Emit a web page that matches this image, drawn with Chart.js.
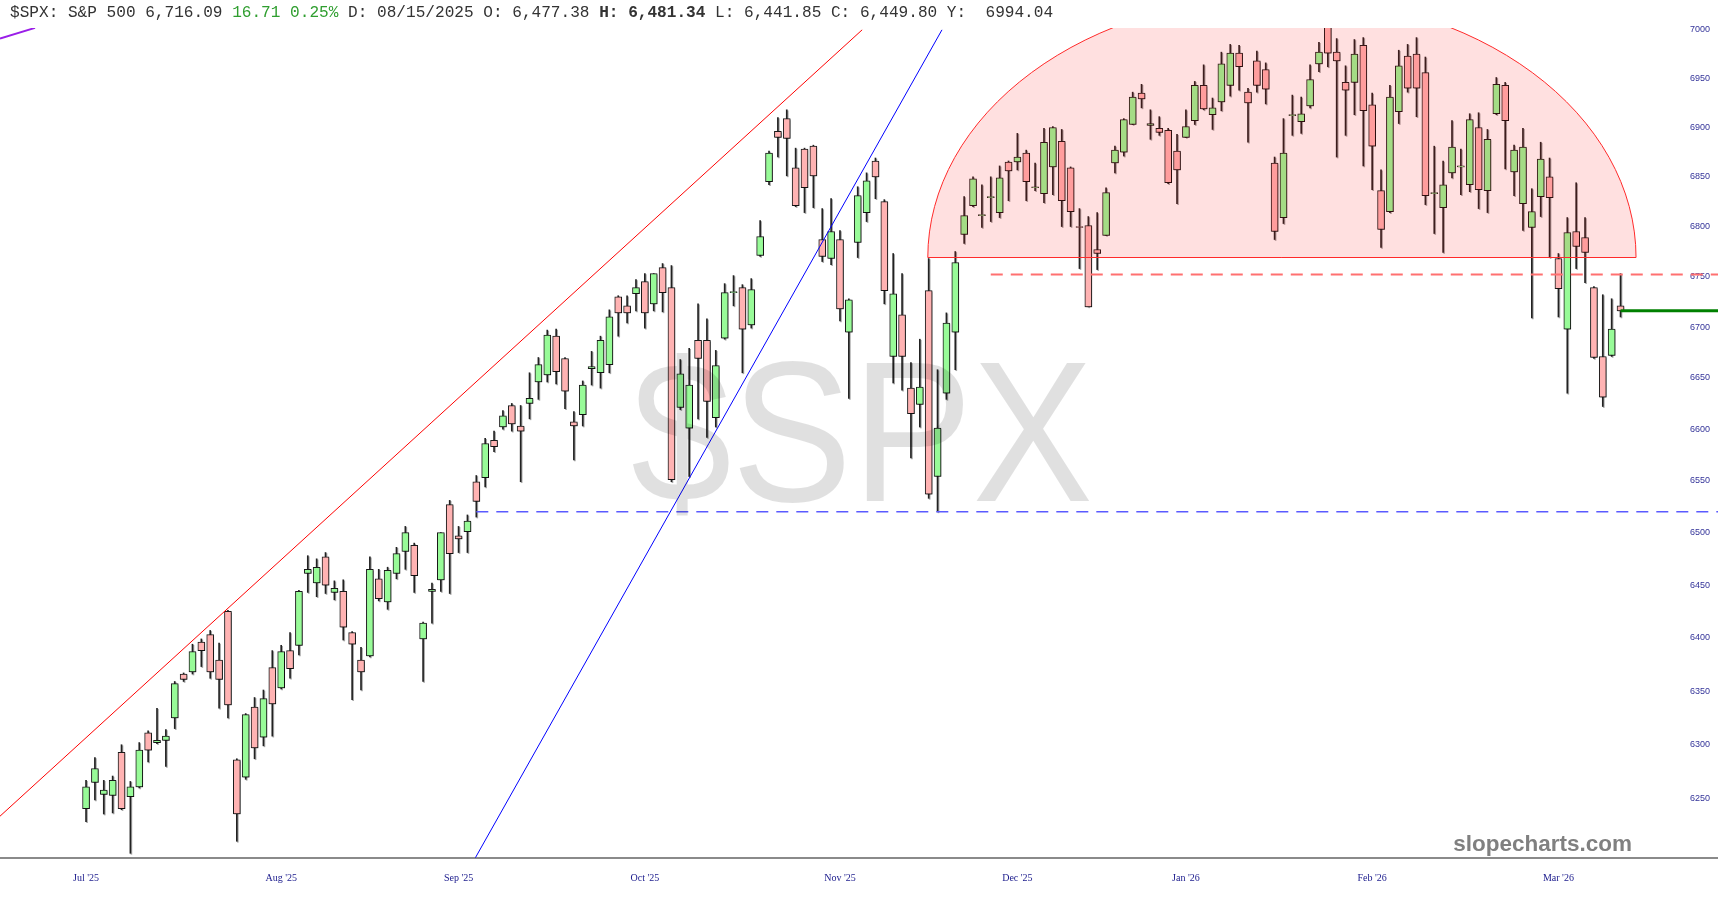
<!DOCTYPE html>
<html>
<head>
<meta charset="utf-8">
<title>$SPX</title>
<script src="https://cdn.jsdelivr.net/npm/chart.js@4.4.1/dist/chart.umd.min.js"></script>
<style>
  html, body { margin: 0; padding: 0; background: #fff; }
  #wrap { position: relative; width: 1718px; height: 900px; }
  #header {
    position: absolute; left: 10px; top: 4px;
    font: 16.1px "Liberation Mono", monospace; line-height: 18px;
    color: #333; white-space: pre;
  }
  #header .chg { color: #2f9e2f; }
</style>
</head>
<body>
<div id="wrap">
  <canvas id="chart" width="1718" height="900"></canvas>
  <div id="header">$SPX: S&amp;P 500 6,716.09 <span class="chg">16.71 0.25%</span> D: 08/15/2025 O: 6,477.38 <b>H: 6,481.34</b> L: 6,441.85 C: 6,449.80 Y:  6994.04</div>
</div>
<script>
// daily candles, 9 Jul 2025 .. mid Mar 2026
const opens = [
  6241, 6265, 6254, 6253, 6293, 6252, 6261, 6311, 6302, 6304, 6325, 6366, 6368, 6396, 6403, 6379, 6425,
  6286, 6270, 6335, 6307, 6372, 6353, 6388, 6393, 6461, 6452, 6477, 6443, 6444, 6405, 6379, 6383, 6456, 6434, 6461, 6482, 6488,
  6399, 6444, 6455, 6527, 6497, 6501, 6549, 6553, 6589, 6602, 6623, 6603, 6625, 6646, 6653, 6691, 6669, 6607, 6614, 6659, 6655,
  6663, 6730, 6721, 6733, 6745, 6723, 6759, 6739, 6621, 6601, 6687, 6687, 6611, 6689, 6734, 6739, 6702, 6771, 6845, 6896, 6909, 6859, 6878,
  6881, 6787, 6768, 6787, 6695, 6784, 6814, 6866, 6825, 6671, 6712, 6640, 6624, 6736, 6554, 6635, 6695, 6792, 6821,
  6811, 6829, 6814, 6865, 6865, 6874, 6839, 6833, 6860, 6886, 6859, 6800, 6801, 6777, 6791, 6864, 6875, 6903, 6935, 6902, 6899, 6897,
  6876, 6890, 6907, 6943, 6913, 6926, 6943, 6976, 6936, 6968, 6959, 6864, 6809, 6912, 6906, 6922, 6965, 7005, 6977, 6946,
  6946, 6984, 6923, 6836, 6815, 6916, 6973, 6975, 6956, 6833, 6819, 6854, 6860, 6842, 6900, 6836, 6914, 6943, 6855,
  6823, 6799, 6830, 6850, 6768, 6698, 6795, 6789, 6739, 6671, 6672, 6721
];
const highs = [
  6267, 6288, 6267, 6271, 6300, 6266, 6302, 6313, 6334, 6314, 6359, 6367, 6394, 6399, 6407, 6395, 6426,
  6287, 6329, 6344, 6351, 6388, 6393, 6405, 6445, 6478, 6475, 6481, 6454, 6455, 6406, 6391, 6477, 6465, 6467, 6486, 6506, 6490,
  6415, 6452, 6500, 6531, 6506, 6517, 6555, 6591, 6598, 6618, 6625, 6623, 6655, 6670, 6697, 6698, 6670, 6617, 6647, 6676, 6691,
  6717, 6731, 6731, 6747, 6753, 6753, 6763, 6761, 6668, 6679, 6723, 6708, 6677, 6743, 6751, 6742, 6748, 6806, 6876, 6910, 6918, 6879, 6879,
  6882, 6818, 6828, 6796, 6728, 6840, 6854, 6869, 6827, 6773, 6753, 6665, 6688, 6768, 6658, 6714, 6775, 6830, 6850,
  6842, 6850, 6861, 6866, 6894, 6877, 6864, 6899, 6901, 6898, 6860, 6818, 6810, 6814, 6839, 6881, 6909, 6936, 6944, 6918, 6911, 6899,
  6893, 6918, 6947, 6964, 6930, 6977, 6985, 6984, 6940, 6978, 6966, 6870, 6909, 6933, 6931, 6964, 6987, 7015, 6991, 6963,
  6990, 6992, 6935, 6857, 6943, 6979, 6985, 6992, 6972, 6881, 6866, 6907, 6878, 6914, 6915, 6898, 6951, 6946, 6882,
  6899, 6838, 6885, 6869, 6773, 6809, 6844, 6809, 6740, 6732, 6728, 6753
];
const lows = [
  6229, 6249, 6236, 6237, 6240, 6200, 6260, 6284, 6301, 6280, 6315, 6359, 6366, 6373, 6362, 6334, 6325,
  6211, 6268, 6287, 6299, 6308, 6352, 6362, 6384, 6443, 6439, 6442, 6436, 6398, 6342, 6351, 6382, 6435, 6427, 6456, 6465, 6443,
  6359, 6414, 6444, 6442, 6481, 6481, 6515, 6544, 6578, 6600, 6598, 6549, 6610, 6629, 6646, 6644, 6620, 6570, 6603, 6643, 6640,
  6655, 6691, 6704, 6716, 6699, 6716, 6715, 6549, 6619, 6554, 6610, 6592, 6602, 6688, 6721, 6655, 6699, 6770, 6842, 6870, 6851, 6820, 6814,
  6819, 6765, 6762, 6706, 6630, 6769, 6805, 6828, 6723, 6645, 6638, 6572, 6602, 6533, 6520, 6629, 6658, 6783, 6820,
  6799, 6805, 6809, 6826, 6857, 6826, 6836, 6824, 6832, 6800, 6800, 6758, 6720, 6757, 6791, 6854, 6871, 6903, 6920, 6888, 6892, 6843,
  6823, 6890, 6903, 6918, 6898, 6917, 6932, 6938, 6885, 6936, 6924, 6787, 6803, 6892, 6894, 6920, 6957, 6962, 6870, 6892,
  6913, 6861, 6837, 6779, 6814, 6904, 6936, 6911, 6822, 6793, 6774, 6849, 6832, 6835, 6818, 6814, 6913, 6858, 6831,
  6796, 6709, 6810, 6769, 6710, 6635, 6758, 6744, 6669, 6622, 6671, 6710
];
const closes = [
  6261, 6278, 6258, 6267, 6241, 6261, 6295, 6295, 6304, 6308, 6357, 6361, 6387, 6388, 6368, 6361, 6337,
  6236, 6328, 6297, 6343, 6338, 6387, 6371, 6444, 6465, 6467, 6450, 6447, 6410, 6394, 6368, 6465, 6437, 6464, 6480, 6500, 6459,
  6414, 6446, 6500, 6480, 6494, 6511, 6530, 6586, 6583, 6613, 6605, 6598, 6630, 6663, 6692, 6656, 6637, 6603, 6643, 6661, 6687,
  6710, 6714, 6714, 6739, 6714, 6753, 6734, 6551, 6654, 6643, 6669, 6627, 6662, 6734, 6735, 6698, 6737, 6790, 6874, 6890, 6889, 6821, 6839,
  6851, 6770, 6795, 6718, 6727, 6831, 6846, 6850, 6736, 6733, 6671, 6615, 6641, 6537, 6601, 6704, 6764, 6811, 6848,
  6812, 6830, 6849, 6856, 6870, 6845, 6840, 6885, 6900, 6826, 6815, 6799, 6720, 6773, 6834, 6877, 6908, 6931, 6929, 6904, 6895, 6844,
  6857, 6901, 6943, 6919, 6920, 6965, 6976, 6962, 6925, 6943, 6939, 6795, 6874, 6913, 6914, 6949, 6977, 6976, 6968, 6938,
  6975, 6917, 6881, 6797, 6931, 6963, 6940, 6940, 6831, 6834, 6842, 6880, 6861, 6908, 6837, 6888, 6944, 6907, 6877,
  6880, 6815, 6868, 6829, 6738, 6794, 6780, 6774, 6670, 6631, 6698, 6716
];

// axis labels
const monthLabels = ["Jul '25", "Aug '25", "Sep '25", "Oct '25", "Nov '25", "Dec '25", "Jan '26", "Feb '26", "Mar '26"];
const monthTickAt = [0, 22, 42, 63, 85, 105, 124, 145, 166];
const priceTicks = [6250, 6300, 6350, 6400, 6450, 6500, 6550, 6600, 6650, 6700, 6750, 6800, 6850, 6900, 6950, 7000];

// drawn studies, as (bar index, price)
const redTrend = [{ x: -9.7, y: 6234 }, { x: 87.5, y: 7000 }];
const blueTrend = [{ x: 43.9, y: 6196 }, { x: 96.5, y: 7000 }];
const purpleTrend = [{ x: -9.7, y: 6991 }, { x: -5.75, y: 7002 }];
const blueSupport = [{ x: 44, y: 6520 }, { x: 184, y: 6520 }];
const redResistance = [{ x: 102, y: 6752 }, { x: 184, y: 6752 }];
const lastPrice = [{ x: 173, y: 6716.09 }, { x: 184, y: 6716.09 }];
const dome = { from: 94.9, to: 174.75, base: 6769, top: 7035 };

const greenBody = '#98fb98';
const redBody = '#ffb3b3';

const bodies = opens.map((o, i) => ({ x: i, y: [o, closes[i]] }));
const wicks = lows.map((l, i) => ({ x: i, y: [l, highs[i]] }));
const bodyColors = opens.map((o, i) => closes[i] >= o ? greenBody : redBody);

function lineSet(data, color, width, dash) {
  return {
    type: 'line', data: data, borderColor: color, borderWidth: width,
    borderDash: dash || [], pointRadius: 0, fill: false, tension: 0, order: 0
  };
}

// soft grey drop shadow under the candles, like the original
const candleShadow = {
  id: 'candleShadow',
  beforeDatasetDraw(chart, args) {
    if (args.meta.type !== 'bar') return;
    const ctx = chart.ctx;
    ctx.save();
    ctx.shadowColor = 'rgba(0, 0, 0, 0.35)';
    ctx.shadowOffsetX = 1;
    ctx.shadowOffsetY = 1;
    ctx.shadowBlur = 0;
  },
  afterDatasetDraw(chart, args) {
    if (args.meta.type !== 'bar') return;
    chart.ctx.restore();
  }
};

const overlayPlugin = {
  id: 'overlay',
  afterDatasetsDraw(chart) {
    const { ctx, chartArea: a, scales: { x, y } } = chart;
    ctx.save();
    ctx.beginPath();
    ctx.rect(a.left, a.top, a.right - a.left, a.bottom - a.top);
    ctx.clip();

    // rounded top dome
    const x0 = x.getPixelForValue(dome.from);
    const x1 = x.getPixelForValue(dome.to);
    const yb = y.getPixelForValue(dome.base);
    const yt = y.getPixelForValue(dome.top);
    ctx.beginPath();
    ctx.ellipse((x0 + x1) / 2, yb, (x1 - x0) / 2, yb - yt, 0, Math.PI, 2 * Math.PI);
    ctx.closePath();
    ctx.fillStyle = 'rgba(255, 0, 0, 0.12)';
    ctx.fill();
    ctx.strokeStyle = '#ff2a2a';
    ctx.lineWidth = 1;
    ctx.stroke();

    // watermark
    ctx.font = '200px "Liberation Sans", Arial, sans-serif';
    ctx.textAlign = 'center';
    ctx.textBaseline = 'middle';
    ctx.fillStyle = 'rgba(0, 0, 0, 0.12)';
    const w = ctx.measureText('$SPX').width;
    ctx.translate(862, 446);
    ctx.scale(462 / w, 1);
    ctx.fillText('$SPX', 0, 0);
    ctx.restore();

    ctx.save();
    ctx.font = 'bold 22.5px "Liberation Sans", Arial, sans-serif';
    ctx.textAlign = 'right';
    ctx.textBaseline = 'alphabetic';
    ctx.fillStyle = '#808080';
    ctx.fillText('slopecharts.com', 1632, 851);
    ctx.restore();
  }
};

new Chart(document.getElementById('chart'), {
  type: 'bar',
  data: {
    datasets: [
      lineSet(redTrend, '#ff0000', 1),
      lineSet(blueTrend, '#0000ff', 1),
      lineSet(purpleTrend, '#9a1ee8', 2),
      lineSet(blueSupport, '#5a5aff', 1.5, [12, 8]),
      lineSet(redResistance, '#ff7070', 2, [12, 8]),
      lineSet(lastPrice, '#008000', 3),
      {
        type: 'bar', data: bodies, backgroundColor: bodyColors,
        borderColor: '#1a1a1a', borderWidth: 1, borderSkipped: false,
        barThickness: 7, grouped: false, order: 1
      },
      {
        type: 'bar', data: wicks, backgroundColor: '#222',
        borderWidth: 0, barThickness: 1, grouped: false, order: 2
      }
    ]
  },
  options: {
    responsive: false,
    animation: false,
    devicePixelRatio: 1,
    layout: { padding: { top: 28, bottom: 2, left: 0, right: 0 } },
    plugins: { legend: { display: false }, tooltip: { enabled: false } },
    scales: {
      x: {
        type: 'linear', min: -9.7, max: 183.99, offset: false,
        grid: { display: false, drawTicks: false },
        border: { display: true, color: '#8a8a8a', width: 2 },
        afterBuildTicks: (s) => { s.ticks = monthTickAt.map(v => ({ value: v })); },
        ticks: {
          autoSkip: false, maxRotation: 0, padding: 14, color: '#1a1a8c',
          font: { family: 'Liberation Serif', size: 10 },
          callback: (v, i) => monthLabels[i]
        }
      },
      y: {
        type: 'logarithmic', position: 'right', min: 6195.7, max: 7001.9,
        grid: { display: false, drawTicks: false },
        border: { display: false },
        afterBuildTicks: (s) => { s.ticks = priceTicks.map(v => ({ value: v })); },
        ticks: {
          mirror: true, padding: -8, color: '#333399', autoSkip: false,
          font: { family: 'Liberation Sans', size: 9 },
          callback: (v) => String(v)
        }
      }
    }
  },
  plugins: [candleShadow, overlayPlugin]
});
</script>
</body>
</html>
